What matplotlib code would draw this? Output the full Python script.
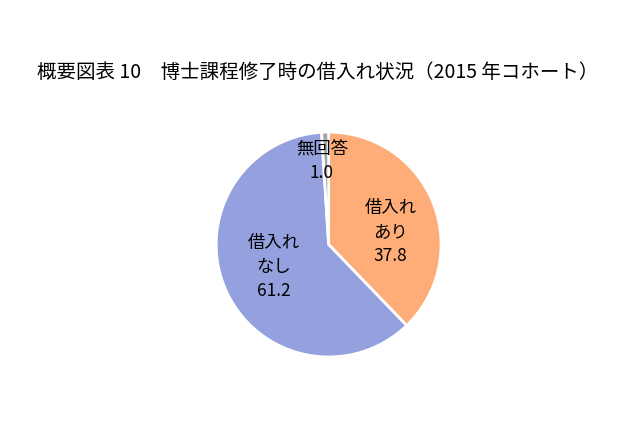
import matplotlib.pyplot as plt

plt.rcParams['font.family'] = ['Noto Sans CJK JP', 'DejaVu Sans']

# data
categories = ["借入れ\nあり", "借入れ\nなし", "無回答"]
values = [37.8, 61.2, 1.0]
colors = ["#FFAD78", "#95A1DF", "#A5A5A5"]

title = "概要図表 10　博士課程修了時の借入れ状況（2015 年コホート）"

fig = plt.figure(figsize=(6.4, 4.26), dpi=100)
fig.text(0.497, 0.831, title, ha="center", va="center", fontsize=14)

ax = fig.add_axes([0.3375, 0.162, 0.352, 0.528])
ax.pie(values, colors=colors, startangle=90, counterclock=False,
       wedgeprops=dict(edgecolor="white", linewidth=2))
ax.set_xlim(-1.0, 1.0)
ax.set_ylim(-1.0, 1.0)
ax.set_aspect("equal")

# label positions in pie coordinates
label_pos = [(0.55, 0.11), (-0.49, -0.20), (-0.06, 0.74)]
for cat, val, (x, y) in zip(categories, values, label_pos):
    ax.text(x, y, f"{cat}\n{val:.1f}", ha="center", va="center",
            fontsize=12.5, linespacing=1.45)

fig.savefig("out.png", dpi=100)
